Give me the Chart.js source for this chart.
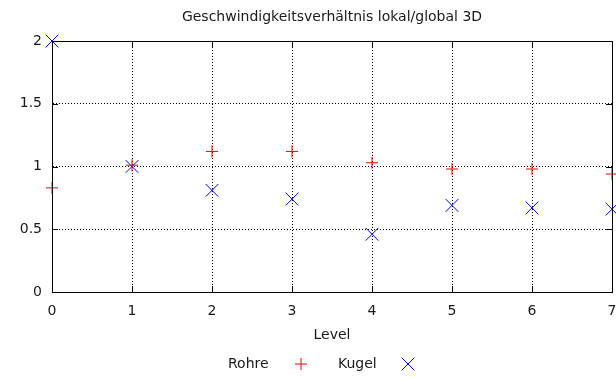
<!DOCTYPE html>
<html>
<head>
<meta charset="utf-8">
<script src="https://cdn.jsdelivr.net/npm/chart.js@4/dist/chart.umd.min.js"></script>
<style>
  html, body { margin: 0; padding: 0; background: #fff; }
  #wrap { width: 616px; height: 378px; }
</style>
</head>
<body>
<div id="wrap"><canvas id="chartCanvas" width="616" height="378"></canvas></div>
<script>
const levels = [0, 1, 2, 3, 4, 5, 6, 7];
const rohre = [0.83, 1.01, 1.12, 1.12, 1.03, 0.98, 0.98, 0.94];
const kugel = [2.0, 1.0, 0.81, 0.74, 0.46, 0.69, 0.67, 0.66];
const yTicks = [0, 0.5, 1, 1.5, 2];

const FONT = "DejaVu Sans";
const FSIZE = 14;
const TEXT = "#1a1a1a";

// border on all four sides plus small inward tick marks like gnuplot
const framePlugin = {
  id: "frame",
  afterDraw(c) {
    const ctx = c.ctx;
    const a = c.chartArea;
    const xs = c.scales.x, ys = c.scales.y;
    ctx.save();
    ctx.strokeStyle = "#000";
    ctx.lineWidth = 1;
    ctx.beginPath();
    levels.forEach(v => {
      const px = Math.round(xs.getPixelForValue(v)) + 0.5;
      ctx.moveTo(px, a.bottom); ctx.lineTo(px, a.bottom - 6);
      ctx.moveTo(px, a.top); ctx.lineTo(px, a.top + 6);
    });
    yTicks.forEach(v => {
      const py = Math.round(ys.getPixelForValue(v)) + 0.5;
      ctx.moveTo(a.left, py); ctx.lineTo(a.left + 6, py);
      ctx.moveTo(a.right, py); ctx.lineTo(a.right - 6, py);
    });
    ctx.stroke();
    ctx.strokeRect(Math.round(a.left) + 0.5, Math.round(a.top) + 0.5,
      Math.round(a.right - a.left), Math.round(a.bottom - a.top));

    // title centred over the plot
    ctx.fillStyle = TEXT;
    ctx.font = FSIZE + "px '" + FONT + "'";
    ctx.textAlign = "center";
    ctx.textBaseline = "middle";
    ctx.fillText("Geschwindigkeitsverhältnis lokal/global 3D", (a.left + a.right) / 2, 17);

    // key below the axis title: label, then sample
    const y = 364;
    ctx.textAlign = "left";
    c.data.datasets.forEach((ds, i) => {
      const tx = i === 0 ? 228 : 338;
      const mx = i === 0 ? 301 : 408;
      ctx.fillStyle = TEXT;
      ctx.fillText(ds.label, tx, y);
      ctx.strokeStyle = ds.borderColor;
      ctx.lineWidth = 1;
      Chart.helpers.drawPoint(ctx, {
        pointStyle: ds.pointStyle, radius: ds.pointRadius, rotation: 0, borderWidth: 1
      }, mx, y);
    });
    ctx.restore();
  }
};

const ctx = document.getElementById("chartCanvas").getContext("2d");
new Chart(ctx, {
  type: "scatter",
  data: {
    datasets: [
      {
        label: "Rohre",
        data: levels.map((x, i) => ({ x: x, y: rohre[i] })),
        pointStyle: "cross",
        pointRadius: 6,
        pointBorderWidth: 1,
        borderColor: "#ff0000",
        backgroundColor: "#ff0000",
        clip: false
      },
      {
        label: "Kugel",
        data: levels.map((x, i) => ({ x: x, y: kugel[i] })),
        pointStyle: "crossRot",
        pointRadius: 9,
        pointBorderWidth: 1,
        borderColor: "#0000ff",
        backgroundColor: "#0000ff",
        clip: false
      }
    ]
  },
  options: {
    responsive: false,
    animation: false,
    layout: { autoPadding: false, padding: { top: 41, right: 4, left: 0, bottom: 0 } },
    plugins: {
      legend: { display: false },
      tooltip: { enabled: false },
      title: { display: false }
    },
    scales: {
      x: {
        type: "linear",
        min: 0,
        max: 7,
        afterFit: s => { s.height = 86; s.paddingLeft = 0; s.paddingRight = 0; },
        afterBuildTicks: s => { s.ticks = levels.map(v => ({ value: v })); },
        grid: { color: "#000", lineWidth: 1, drawTicks: false },
        border: { display: true, color: "#000", dash: [1, 2] },
        ticks: { padding: 11, color: TEXT, font: { family: FONT, size: FSIZE }, maxRotation: 0 },
        title: { display: true, text: "Level", color: TEXT, font: { family: FONT, size: FSIZE }, padding: { top: 0, bottom: 34 } }
      },
      y: {
        min: 0,
        max: 2,
        afterFit: s => { s.width = 52; },
        afterBuildTicks: s => { s.ticks = yTicks.map(v => ({ value: v })); },
        grid: { color: "#000", lineWidth: 1, drawTicks: false },
        border: { display: true, color: "#000", dash: [1, 2] },
        ticks: { padding: 10, color: TEXT, font: { family: FONT, size: FSIZE }, callback: v => String(v) }
      }
    }
  },
  plugins: [framePlugin]
});
</script>
</body>
</html>
